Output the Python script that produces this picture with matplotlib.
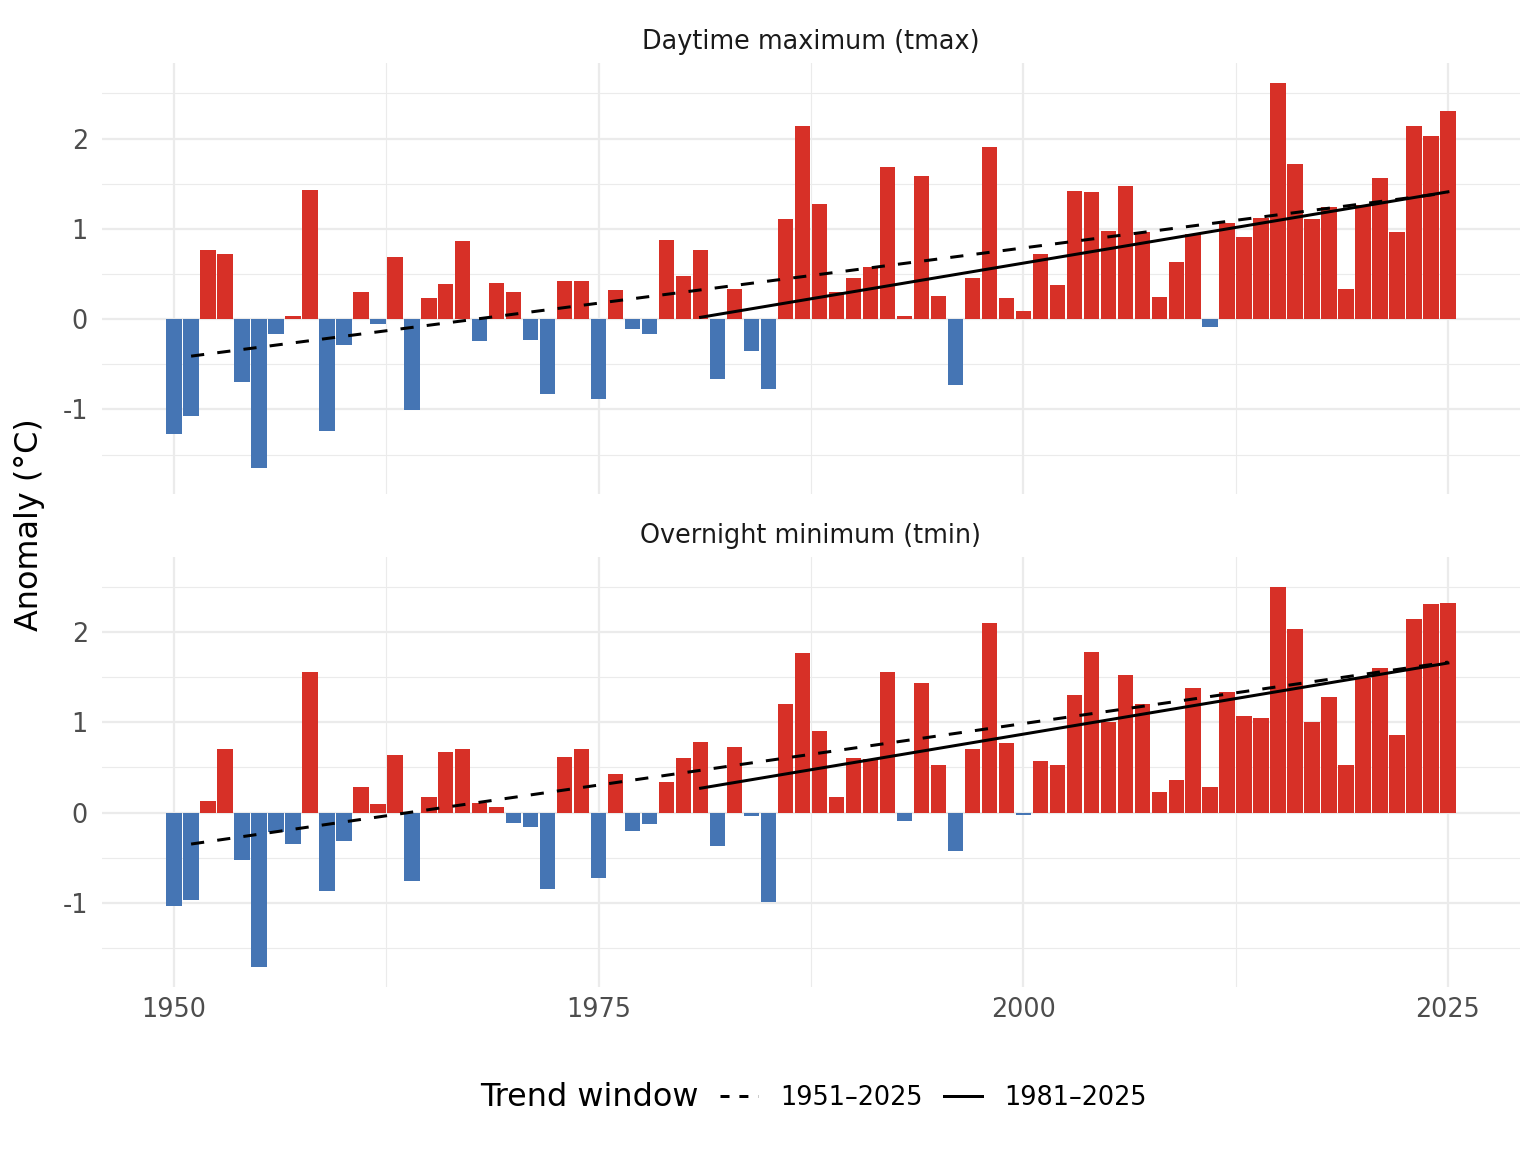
import numpy as np
import matplotlib
matplotlib.use("Agg")
import matplotlib.pyplot as plt
from matplotlib.lines import Line2D

years = np.arange(1950, 2026)

tmax = [-1.27, -1.07, 0.77, 0.72, -0.70, -1.65, -0.16, 0.04, 1.43, -1.24,
        -0.29, 0.30, -0.05, 0.69, -1.01, 0.23, 0.39, 0.87, -0.24, 0.40,
        0.30, -0.23, -0.83, 0.42, 0.42, -0.89, 0.32, -0.11, -0.16, 0.88,
        0.48, 0.77, -0.66, 0.33, -0.35, -0.77, 1.11, 2.14, 1.27, 0.30,
        0.46, 0.58, 1.68, 0.04, 1.58, 0.26, -0.73, 0.46, 1.91, 0.23,
        0.09, 0.72, 0.38, 1.42, 1.41, 0.98, 1.47, 0.96, 0.24, 0.63,
        0.94, -0.09, 1.06, 0.91, 1.12, 2.62, 1.72, 1.11, 1.24, 0.33,
        1.26, 1.56, 0.97, 2.14, 2.03, 2.31]

tmin = [-1.04, -0.97, 0.13, 0.71, -0.53, -1.72, -0.22, -0.35, 1.56, -0.87,
        -0.32, 0.28, 0.09, 0.64, -0.76, 0.17, 0.67, 0.70, 0.11, 0.06,
        -0.12, -0.16, -0.85, 0.62, 0.71, -0.73, 0.43, -0.21, -0.13, 0.34,
        0.61, 0.78, -0.37, 0.73, -0.04, -0.99, 1.21, 1.77, 0.90, 0.17,
        0.60, 0.59, 1.56, -0.09, 1.44, 0.53, -0.43, 0.71, 2.10, 0.77,
        -0.03, 0.57, 0.53, 1.30, 1.78, 1.00, 1.53, 1.20, 0.23, 0.36,
        1.38, 0.28, 1.34, 1.07, 1.05, 2.50, 2.04, 1.01, 1.28, 0.53,
        1.49, 1.61, 0.86, 2.15, 2.32, 2.33]

panel_titles = ["Daytime maximum (tmax)", "Overnight minimum (tmin)"]
trend_windows = [(1951, 2025), (1981, 2025)]
trend_labels = ["1951\u20132025", "1981\u20132025"]
# trend line values at the start and end of each window, per panel
trend_tmax = [(-0.41, 1.40), (0.02, 1.41)]
trend_tmin = [(-0.35, 1.67), (0.27, 1.66)]
x_ticks = [1950, 1975, 2000, 2025]
y_ticks = [-1, 0, 1, 2]

RED = "#D73027"
BLUE = "#4575B4"
GRID = "#EBEBEB"

plt.rcParams['font.family'] = ['DejaVu Sans']

FS_SMALL = 12.76
FS_BIG = 15.95

fig = plt.figure(figsize=(1536/144, 1152/144), dpi=144)
W, H = 1536, 1152
left, right = 102/W, 1520/W
panels = [(63, 494), (557, 987)]

all_vals = np.array(tmax + tmin)
lo, hi = all_vals.min(), all_vals.max()
pad = 0.05*(hi-lo)
ylim = (lo-pad, hi+pad)
xlim = (1949.55 - 0.05*75.9, 2025.45 + 0.05*75.9)

for i, (series, trends, title) in enumerate(zip([tmax, tmin], [trend_tmax, trend_tmin], panel_titles)):
    top, bot = panels[i]
    ax = fig.add_axes([left, 1-bot/H, right-left, (bot-top)/H])
    vals = np.array(series)
    colors = [RED if v > 0 else BLUE for v in vals]
    ax.bar(years, vals, width=0.9, color=colors, zorder=2, linewidth=0)
    for (a, b), (ya, yb), ls in zip(trend_windows, trends, ["dashed", "solid"]):
        if ls == "dashed":
            ax.plot([a, b], [ya, yb], color="black", lw=1.5, dashes=(4.4, 4.4), zorder=3)
        else:
            ax.plot([a, b], [ya, yb], color="black", lw=1.5, zorder=3)
    ax.set_xlim(*xlim)
    ax.set_ylim(*ylim)
    ax.set_xticks(x_ticks)
    ax.set_yticks(y_ticks)
    ax.set_yticklabels([str(t) for t in y_ticks])
    ax.set_xticks([1962.5, 1987.5, 2012.5], minor=True)
    ax.set_yticks([-1.5, -0.5, 0.5, 1.5, 2.5], minor=True)
    ax.grid(which="major", color=GRID, lw=1.1, zorder=0)
    ax.grid(which="minor", color=GRID, lw=0.55, zorder=0)
    ax.set_axisbelow(True)
    for s in ax.spines.values():
        s.set_visible(False)
    ax.tick_params(which="both", length=0, labelsize=FS_SMALL, labelcolor="#4D4D4D")
    ax.tick_params(axis="y", pad=7)
    ax.tick_params(axis="x", pad=5)
    ax.set_title(title, fontsize=FS_SMALL, color="#1A1A1A", pad=7)
    if i == 0:
        ax.tick_params(axis="x", labelbottom=False)

fig.text(30/W, 1-525/H, "Anomaly (\u00b0C)", rotation=90, ha="center", va="center", fontsize=FS_BIG)

handles = [Line2D([0], [0], color="black", lw=1.5, dashes=(3.0, 3.3)),
           Line2D([0], [0], color="black", lw=1.5)]
fig.text(480/W, 1-1098/H, "Trend window", ha="left", va="center", fontsize=FS_BIG)
fig.legend(handles, trend_labels, ncol=2, loc="center left",
           bbox_to_anchor=(720/W, 1-1098/H), frameon=False, fontsize=FS_SMALL,
           handlelength=1.5, handletextpad=0.85, columnspacing=0.85, borderaxespad=0, borderpad=0)

fig.savefig("out.png", dpi=144, facecolor="white")
